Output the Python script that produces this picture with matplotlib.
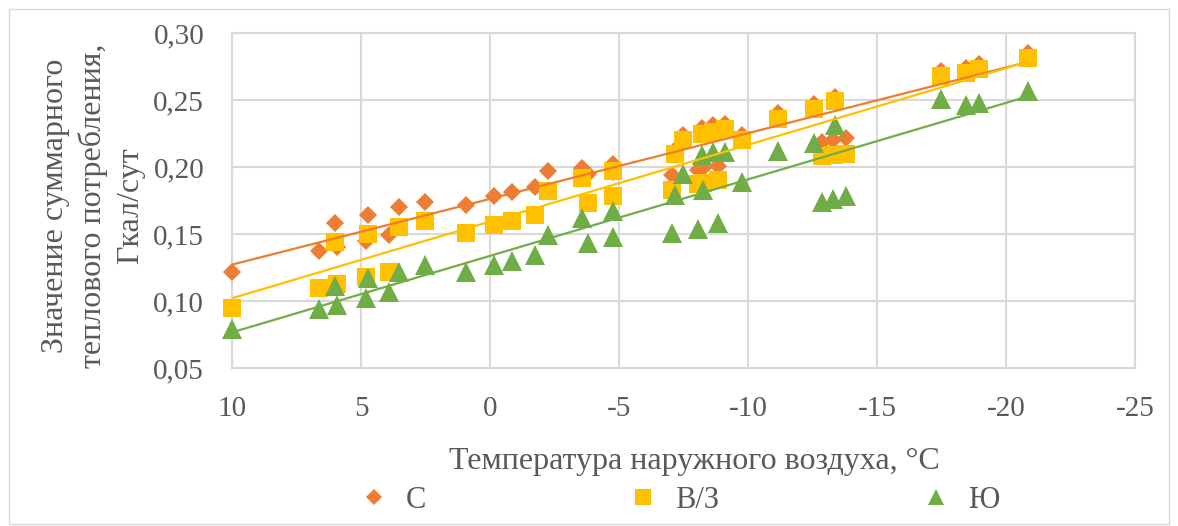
import numpy as np
import matplotlib
matplotlib.use("Agg")
import matplotlib.pyplot as plt
from matplotlib.patches import Rectangle
from matplotlib.lines import Line2D
from matplotlib.ticker import FuncFormatter, MultipleLocator

# outdoor temperature, degC (shared by all three facades)
temps = [10.0, 6.63, 6.01, 5.94, 4.82, 4.72, 3.9, 3.53, 2.52, 0.93,
         -0.17, -0.86, -1.76, -2.26, -3.57, -3.78, -4.77, -4.77, -7.04, -7.17,
         -7.49, -8.07, -8.2, -8.27, -8.66, -8.85, -9.09, -9.76, -11.17, -12.56,
         -12.86, -13.28, -13.37, -13.78, -17.47, -18.45, -18.95, -20.85]

# total heat consumption, Gcal/day
north = [0.122, 0.137, 0.158, 0.140, 0.145, 0.164, 0.149, 0.170, 0.174, 0.172,
         0.178, 0.181, 0.185, 0.197, 0.199, 0.195, 0.202, 0.196, 0.194, 0.213,
         0.224, 0.198, 0.229, 0.199, 0.231, 0.201, 0.232, 0.224, 0.240, 0.247,
         0.219, 0.220, 0.252, 0.222, 0.272, 0.274, 0.277, 0.285]
east_west = [0.095, 0.110, 0.144, 0.113, 0.118, 0.150, 0.122, 0.155, 0.160, 0.151,
             0.157, 0.160, 0.164, 0.182, 0.192, 0.173, 0.197, 0.178, 0.183, 0.210,
             0.220, 0.187, 0.225, 0.188, 0.226, 0.190, 0.228, 0.220, 0.236, 0.243,
             0.208, 0.209, 0.249, 0.210, 0.268, 0.270, 0.273, 0.281]
south = [0.079, 0.094, 0.111, 0.097, 0.102, 0.117, 0.107, 0.122, 0.127, 0.122,
         0.127, 0.130, 0.134, 0.149, 0.162, 0.143, 0.167, 0.148, 0.1505, 0.179,
         0.195, 0.154, 0.209, 0.183, 0.211, 0.158, 0.211, 0.189, 0.212, 0.218,
         0.174, 0.176, 0.231, 0.178, 0.251, 0.246, 0.248, 0.257]

SERIES = [
    ("С", north, "D", "#ED7D31", 9.5),
    ("В/З", east_west, "s", "#FFC000", 13),
    ("Ю", south, "^", "#70AD47", 14),
]
TEXT = "#595959"
GRID = "#D9D9D9"
FONT = "Liberation Serif"

fig = plt.figure(figsize=(11.78, 5.26), dpi=100)
fig.patches.append(Rectangle((9 / 1178, 2 / 526), 1160 / 1178, 515 / 526,
                             transform=fig.transFigure, fill=False,
                             edgecolor=GRID, linewidth=1.0))

ax = fig.add_axes([232 / 1178, 1 - 368 / 526, (1135 - 232) / 1178, (368 - 33) / 526])
ax.set_xlim(10, -25)
ax.set_ylim(0.05, 0.30)
ax.xaxis.set_major_locator(MultipleLocator(5))
ax.yaxis.set_major_locator(MultipleLocator(0.05))
ax.xaxis.set_major_formatter(FuncFormatter(lambda v, p: f"{int(round(v))}"))
ax.yaxis.set_major_formatter(FuncFormatter(lambda v, p: f"{v:.2f}".replace(".", ",")))
ax.grid(True, color=GRID, linewidth=1.5, zorder=0)
ax.set_axisbelow(True)
for sp in ax.spines.values():
    sp.set_color(GRID)
    sp.set_linewidth(1.5)
ax.tick_params(length=0, labelsize=21, labelcolor=TEXT)
ax.tick_params(axis="y", pad=20)
ax.tick_params(axis="x", pad=20)
for lab in ax.get_xticklabels() + ax.get_yticklabels():
    lab.set_fontfamily(FONT)

x = np.array(temps)
xs = np.array([x.max(), x.min()])
handles = []
for name, vals, marker, color, ms in SERIES:
    ax.plot(x, vals, linestyle="none", marker=marker, markersize=ms,
            color=color, markeredgewidth=0, zorder=3, clip_on=False)
    k, b = np.polyfit(x, vals, 1)
    ax.plot(xs, k * xs + b, color=color, linewidth=1.6, zorder=4)
    handles.append(Line2D([], [], linestyle="none", marker=marker,
                          markersize=ms * 0.85, color=color,
                          markeredgewidth=0, label=name))

fig.text(694 / 1178, 1 - 462 / 526, "Температура наружного воздуха, °C",
         ha="center", va="center", fontsize=23, color=TEXT, family=FONT)
fig.text(93 / 1178, 1 - 206 / 526,
         "Значение суммарного\nтеплового потребления,\nГкал/сут",
         ha="center", va="center", rotation=90, fontsize=23, color=TEXT,
         family=FONT, linespacing=1.35, multialignment="center")

fig.legend(handles=handles, loc="center", bbox_to_anchor=(679 / 1178, 1 - 500 / 526),
           ncol=3, frameon=False, handlelength=1.0, handletextpad=0.55,
           columnspacing=6.6, prop={"family": FONT, "size": 22},
           labelcolor=TEXT, borderpad=0, borderaxespad=0)

fig.savefig("out.png", dpi=100)
